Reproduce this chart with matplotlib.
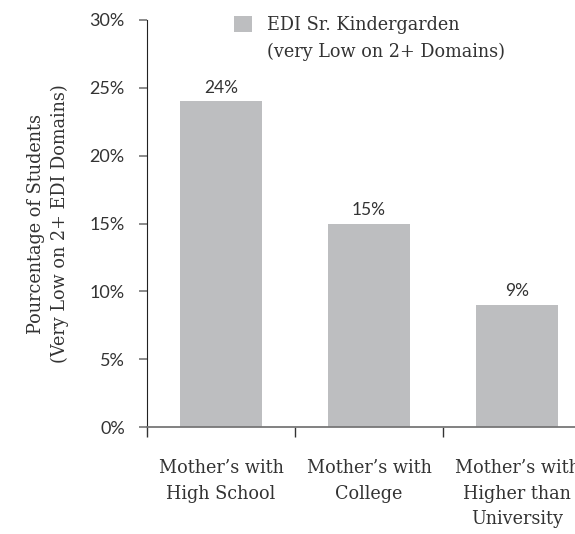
import matplotlib
matplotlib.use("Agg")
import matplotlib.pyplot as plt
from matplotlib.ticker import FixedLocator, FuncFormatter

categories = ["Mother’s with\nHigh School", "Mother’s with\nCollege", "Mother’s with\nHigher than\nUniversity"]
values = [24, 15, 9]
series_label = "EDI Sr. Kindergarden\n(very Low on 2+ Domains)"
y_ticks = [0, 5, 10, 15, 20, 25, 30]

bar_color = "#bdbec0"
text_color = "#333333"
serif = "DejaVu Serif"
sans = "Lato"

fig = plt.figure(figsize=(5.75, 5.34), dpi=100)
# axes runs past the right edge, so the last category is cut off
ax = fig.add_axes([147 / 575, 107 / 534, 444 / 575, 407 / 534])

pos = [i + 0.5 for i in range(len(categories))]
bars = ax.bar(pos, values, width=0.55, color=bar_color, label=series_label, zorder=2)

for b, v in zip(bars, values):
    ax.text(b.get_x() + b.get_width() / 2, v + 0.4, f"{v}%", ha="center", va="bottom",
            fontsize=12.5, family=sans, color=text_color)

ax.set_xlim(0, len(categories))
ax.set_ylim(0, 30)
ax.set_yticks(y_ticks)
ax.yaxis.set_major_formatter(FuncFormatter(lambda v, p: f"{int(v)}%"))
ax.tick_params(axis="y", length=6, width=1.2, color="#777777", labelsize=13,
               labelcolor=text_color, pad=10)
for lbl in ax.get_yticklabels():
    lbl.set_family(sans)

# boundary ticks between groups, category names on minor ticks
ax.xaxis.set_major_locator(FixedLocator(range(len(categories) + 1)))
ax.xaxis.set_major_formatter(FuncFormatter(lambda v, p: ""))
ax.xaxis.set_minor_locator(FixedLocator(pos))
ax.set_xticklabels(categories, minor=True)
ax.tick_params(axis="x", which="major", length=7, width=1, color="#333333")
ax.tick_params(axis="x", which="minor", length=0, pad=23, labelsize=12.7, labelcolor=text_color)
for lbl in ax.get_xticklabels(minor=True):
    lbl.set_family(serif)
    lbl.set_linespacing(1.55)

ax.spines["top"].set_visible(False)
ax.spines["right"].set_visible(False)
ax.spines["left"].set_color("#222222")
ax.spines["bottom"].set_color("#777777")
ax.spines["bottom"].set_linewidth(1.3)

ax.set_ylabel("Pourcentage of Students\n(Very Low on 2+ EDI Domains)", family=serif,
              fontsize=12.7, color=text_color, labelpad=15, linespacing=1.35)

leg = ax.legend(loc="upper left", bbox_to_anchor=(218 / 575, 1.0), bbox_transform=fig.transFigure,
                frameon=False, prop={"family": serif, "size": 12.7}, handlelength=1.0,
                handleheight=1.0, handletextpad=0.85, labelcolor=text_color)
for t in leg.get_texts():
    t.set_linespacing(1.6)
# keep the swatch level with the first line of the label
for col in leg._legend_handle_box.get_children():
    for item in col.get_children():
        item.align = "top"

fig.savefig("out.png", dpi=100)
